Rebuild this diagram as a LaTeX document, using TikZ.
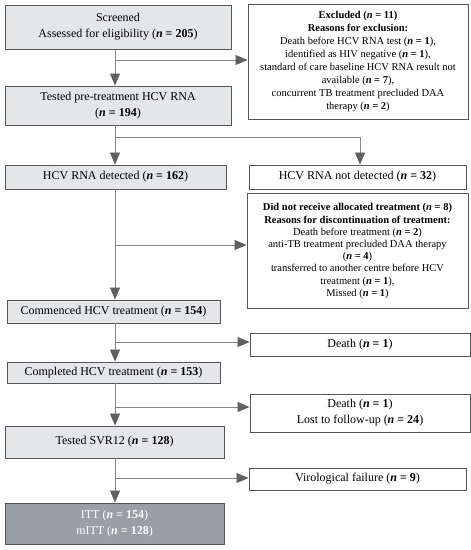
\documentclass[tikz,border=0pt]{standalone}
\usepackage{fontspec}
\setmainfont{Liberation Serif}
\usetikzlibrary{arrows.meta}
\definecolor{boxfill}{HTML}{E4E6EA}
\definecolor{darkfill}{HTML}{9A9EA6}
\definecolor{edge}{HTML}{555555}
\definecolor{linec}{HTML}{858585}
\definecolor{headc}{HTML}{606060}
\newcommand{\nn}[1]{(\textbf{\textit{n} = #1})}
\tikzset{
  base/.style={draw=edge, line width=0.9pt, align=center, inner sep=1pt, font=\fontsize{12}{16}\selectfont},
  small/.style={font=\fontsize{10.5}{13.1}\selectfont},
  smaller/.style={font=\fontsize{10.5}{12.2}\selectfont},
  lbox/.style={base, fill=boxfill},
  rbox/.style={base, fill=white},
  dbox/.style={base, fill=darkfill, text=white},
  arr/.style={draw=linec, line width=0.8pt, -{Triangle[length=12pt,width=10pt,fill=headc,color=headc]}},
  ln/.style={draw=linec, line width=0.8pt},
}
\begin{document}
\begin{tikzpicture}[x=1pt,y=-1pt]
\useasboundingbox (0,0) rectangle (471,550);
% left column
\node[lbox, minimum width=226pt, minimum height=44pt] (s1) at (118,27) {Screened\\Assessed for eligibility \nn{205}};
\node[lbox, minimum width=226pt, minimum height=39pt] (s2) at (118,105.5) {Tested pre-treatment HCV RNA\\\nn{194}};
\node[lbox, minimum width=221pt, minimum height=24pt] (s3) at (115.5,177) {HCV RNA detected \nn{162}};
\node[lbox, minimum width=213pt, minimum height=23pt] (s4) at (113.5,311.5) {Commenced HCV treatment \nn{154}};
\node[lbox, minimum width=213pt, minimum height=21pt] (s5) at (113.5,372.5) {Completed HCV treatment \nn{153}};
\node[lbox, minimum width=219pt, minimum height=32pt] (s6) at (114.5,442) {Tested SVR12 \nn{128}};
\node[dbox, minimum width=219pt, minimum height=41pt] (s7) at (114.5,523.5) {ITT \nn{154}\\mITT \nn{128}};
% right column
\node[rbox, small, minimum width=220pt, minimum height=115pt] (e1) at (358,61.5) {\textbf{Excluded (\textit{n} = 11)}\\\textbf{Reasons for exclusion:}\\Death before HCV RNA test \nn{1},\\identified as HIV negative \nn{1},\\standard of care baseline HCV RNA result not\\available \nn{7},\\concurrent TB treatment precluded DAA\\therapy \nn{2}};
\node[rbox, minimum width=217pt, minimum height=24pt] (e2) at (357.5,177) {HCV RNA not detected \nn{32}};
\node[rbox, smaller, minimum width=221pt, minimum height=115pt] (e3) at (357.5,251) {\textbf{Did not receive allocated treatment (\textit{n} = 8)}\\\textbf{Reasons for discontinuation of treatment:}\\Death before treatment \nn{2}\\anti-TB treatment precluded DAA therapy\\\nn{4}\\transferred to another centre before HCV\\treatment \nn{1},\\Missed \nn{1}};
\node[rbox, minimum width=220pt, minimum height=23pt] (e4) at (360,344.5) {Death \nn{1}};
\node[rbox, minimum width=220pt, minimum height=38pt] (e5) at (360,413) {Death \nn{1}\\Lost to follow-up \nn{24}};
\node[rbox, minimum width=217pt, minimum height=22pt] (e6) at (357.5,479) {Virological failure \nn{9}};
% spine
\coordinate (sp) at (115,0);
\coordinate (b1) at (115,60);
\coordinate (b2) at (115,137);
\coordinate (b2r) at (360,137);
\coordinate (b3) at (115,245);
\coordinate (b4) at (115,342);
\coordinate (b5) at (115,407);
\coordinate (b6) at (115,478);
\draw[arr] (s1.south -| sp) -- (s2.north -| sp);
\draw[arr] (b1) -- (e1.west |- b1);
\draw[arr] (s2.south -| sp) -- (s3.north -| sp);
\draw[ln] (b2) -- (b2r);
\draw[arr] (b2r) -- (e2.north -| b2r);
\draw[arr] (s3.south -| sp) -- (s4.north -| sp);
\draw[arr] (b3) -- (e3.west |- b3);
\draw[arr] (s4.south -| sp) -- (s5.north -| sp);
\draw[arr] (b4) -- (e4.west |- b4);
\draw[arr] (s5.south -| sp) -- (s6.north -| sp);
\draw[arr] (b5) -- (e5.west |- b5);
\draw[arr] (s6.south -| sp) -- (s7.north -| sp);
\draw[arr] (b6) -- (e6.west |- b6);
\end{tikzpicture}
\end{document}
